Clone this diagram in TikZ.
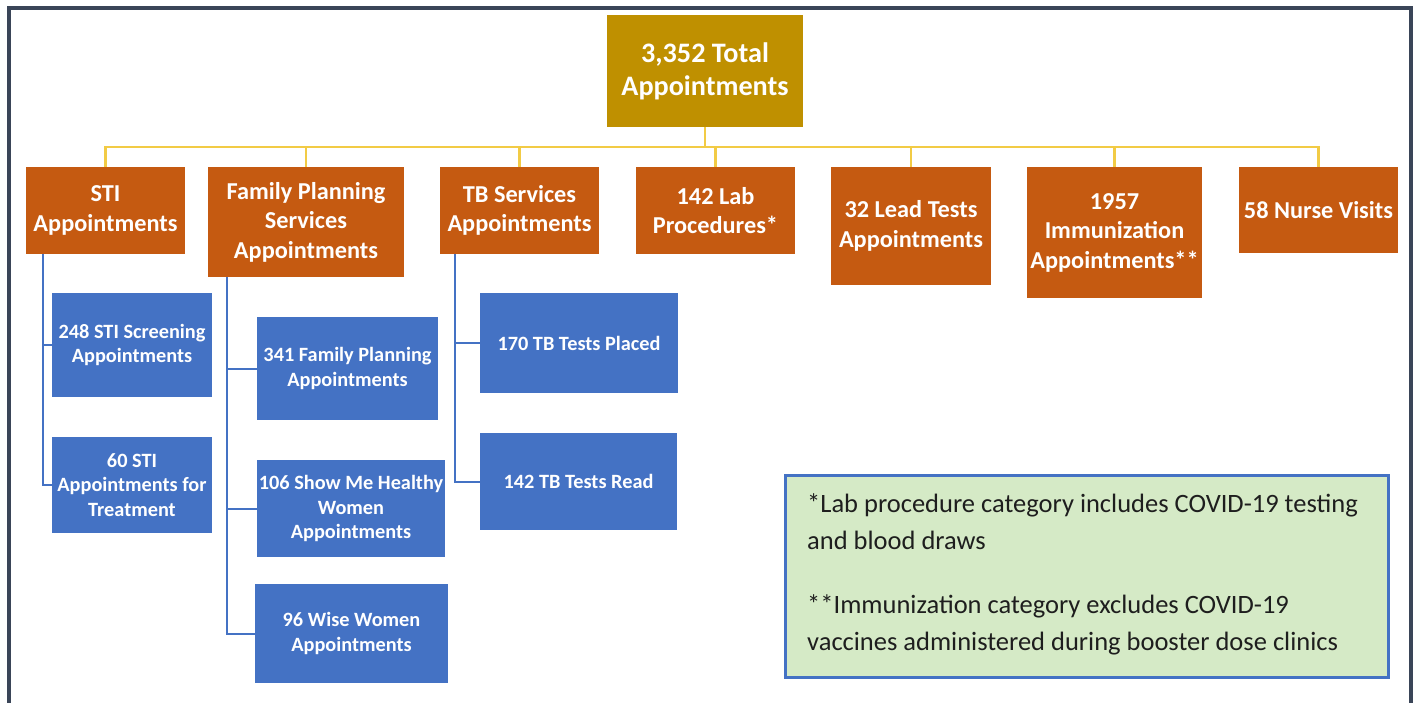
\documentclass[tikz,border=0pt]{standalone}
\usepackage{fontspec}
\setmainfont{Carlito}
\definecolor{goldc}{HTML}{BF9000}
\definecolor{orngc}{HTML}{C55A11}
\definecolor{bluec}{HTML}{4472C4}
\definecolor{yelc}{HTML}{F2CB45}
\definecolor{notefill}{HTML}{D5EAC6}
\definecolor{framec}{HTML}{3A4558}
\definecolor{notetext}{HTML}{1E1E1E}
\begin{document}
\begin{tikzpicture}[x=1pt,y=-1pt,
  box/.style={draw=none, inner sep=0pt, align=center, text=white},
  topbox/.style={box, fill=goldc, font=\bfseries\fontsize{28.2}{33}\selectfont},
  obox/.style={box, fill=orngc, font=\bfseries\fontsize{24.3}{29.5}\selectfont},
  bbox/.style={box, fill=bluec, font=\bfseries\fontsize{20.3}{24.5}\selectfont},
  yline/.style={draw=yelc, line width=2.5pt},
  bline/.style={draw=bluec, line width=2pt},
  notebox/.style={draw=bluec, line width=3pt, fill=notefill, inner sep=0pt},
  notetxt/.style={inner sep=0pt, align=left, anchor=north west, text=notetext,
    font=\fontsize{26.5}{37}\selectfont},
  framestyle/.style={draw=framec, line width=4pt}
]
\useasboundingbox (0,0) rectangle (1416,702);
\fill[white] (0,0) rectangle (1416,702);
\draw[framestyle] (9,720) -- (9,8) -- (1411,8) -- (1411,720);

% top
\node[topbox, minimum width=196pt, minimum height=112pt] (top) at (705,71) {3,352 Total\\Appointments};

% second level
\node[obox, minimum width=159pt, minimum height=87pt] (sti) at (105.5,210.5) {STI\\Appointments};
\node[obox, minimum width=196pt, minimum height=110pt] (fp) at (306,222) {Family Planning\\Services\\Appointments};
\node[obox, minimum width=159pt, minimum height=87pt] (tb) at (519.5,210.5) {TB Services\\Appointments};
\node[obox, minimum width=159pt, minimum height=87pt] (lab) at (715.5,210.5) {142 Lab\\Procedures*};
\node[obox, minimum width=160pt, minimum height=118pt] (lead) at (911,226) {32 Lead Tests\\Appointments};
\node[obox, minimum width=175pt, minimum height=131pt] (imm) at (1114.5,232.5) {1957\\Immunization\\Appointments**};
\node[obox, minimum width=159pt, minimum height=86pt] (nurse) at (1318.5,210) {58 Nurse Visits};

% third level
\node[bbox, minimum width=160pt, minimum height=104pt] (s1) at (132,345) {248 STI Screening\\Appointments};
\node[bbox, minimum width=160pt, minimum height=96pt] (s2) at (132,485) {60 STI\\Appointments for\\Treatment};
\node[bbox, minimum width=181pt, minimum height=103pt] (f1) at (347.5,368.5) {341 Family Planning\\Appointments};
\node[bbox, minimum width=188pt, minimum height=97pt] (f2) at (351,508.5) {106 Show Me Healthy\\Women\\Appointments};
\node[bbox, minimum width=193pt, minimum height=99pt] (f3) at (351.5,633.5) {96 Wise Women\\Appointments};
\node[bbox, minimum width=198pt, minimum height=100pt] (t1) at (579,343) {170 TB Tests Placed};
\node[bbox, minimum width=197pt, minimum height=97pt] (t2) at (578.5,481.5) {142 TB Tests Read};

% note
\node[notebox, minimum width=603pt, minimum height=202pt] (note) at (1086.5,576) {};
\node[notetxt] (notetext) at (807,493) {*Lab procedure category includes COVID-19 testing\\and blood draws\\[27pt]**Immunization category excludes COVID-19\\vaccines administered during booster dose clinics};

% yellow connectors
\foreach \c in {sti,fp,tb,lab,lead,imm,nurse}
  \draw[yline] (top.south) -- ++(0,20) -| (\c.north);

% blue connectors
\draw[bline] (sti.south west) ++(17,0) coordinate (stiv) |- (s1.west);
\draw[bline] (stiv) |- (s2.west);
\draw[bline] (fp.south west) ++(19,0) coordinate (fpv) |- (f1.west);
\draw[bline] (fpv) |- (f2.west);
\draw[bline] (fpv) |- (f3.west);
\draw[bline] (tb.south west) ++(15,0) coordinate (tbv) |- (t1.west);
\draw[bline] (tbv) |- (t2.west);
\end{tikzpicture}
\end{document}
